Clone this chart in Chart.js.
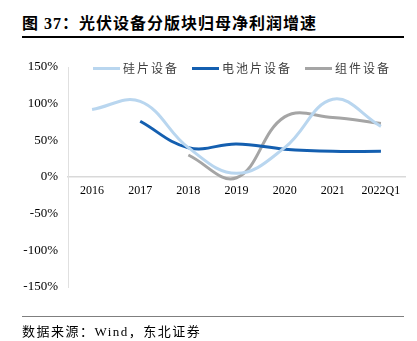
<!DOCTYPE html>
<html><head><meta charset="utf-8">
<script src="https://cdn.jsdelivr.net/npm/chart.js@4.4.1/dist/chart.umd.min.js"></script>
<style>
html,body{margin:0;padding:0;background:#fff;}
body{width:417px;height:341px;position:relative;overflow:hidden;font-family:"Liberation Serif","Noto Sans CJK SC",serif;}
#title{position:absolute;left:22px;top:10px;font-size:16px;font-weight:bold;color:#000;letter-spacing:1px;white-space:nowrap;}
#tline{position:absolute;left:22px;top:36px;width:382px;height:2px;background:#000;}
#bline{position:absolute;left:22px;top:316px;width:382px;height:1px;background:#7f7f7f;}
#src{position:absolute;left:22px;top:321px;font-size:13px;color:#000;white-space:nowrap;letter-spacing:1.5px;}
#cv{position:absolute;left:0;top:0;}
#legend{position:absolute;left:93px;top:59px;display:flex;align-items:center;font-size:12px;color:#404040;white-space:nowrap;}
#legend .it{display:flex;align-items:center;margin-right:13px;letter-spacing:2px;}
#legend .sw{width:27px;height:3px;margin-right:3px;}
</style></head>
<body>
<div id="title">图 37：光伏设备分版块归母净利润增速</div>
<div id="tline"></div>
<canvas id="cv" width="417" height="341"></canvas>
<div id="legend"></div>
<div id="bline"></div>
<div id="src">数据来源：Wind，东北证券</div>
<script>
const categories = ["2016","2017","2018","2019","2020","2021","2022Q1"];
const seriesNames = ["硅片设备","电池片设备","组件设备"];
const waferEquip = [92, 103, 40, 5, 40, 106, 69];
const cellEquip = [null, 76, 40, 45, 38, 35, 35];
const moduleEquip = [null, null, 30, -1, 82, 81, 73];
const yTicks = [-150, -100, -50, 0, 50, 100, 150];
const colors = ["#b9d6ef", "#145fb0", "#a5a5a5"];

const seriesValues = [waferEquip, cellEquip, moduleEquip];
const datasets = seriesValues.map((d, i) => ({
  label: seriesNames[i], data: d, borderColor: colors[i], backgroundColor: colors[i],
  borderWidth: 3, pointRadius: 0, tension: 0.4, fill: false, spanGaps: false
}));

const lg = document.getElementById('legend');
datasets.forEach(ds => {
  const it = document.createElement('div'); it.className = 'it';
  const sw = document.createElement('div'); sw.className = 'sw'; sw.style.background = ds.borderColor;
  const tx = document.createElement('span'); tx.textContent = ds.label;
  it.appendChild(sw); it.appendChild(tx); lg.appendChild(it);
});

new Chart(document.getElementById('cv'), {
  type: 'line',
  data: { labels: categories, datasets },
  options: {
    responsive: false, animation: false,
    layout: { padding: { top: 67, bottom: 54, left: 10, right: 12 } },
    plugins: { legend: { display: false }, tooltip: { enabled: false } },
    scales: {
      x: {
        position: { y: 0 }, offset: true,
        grid: { display: false, drawTicks: false },
        border: { display: true, color: '#d9d9d9', width: 1.5 },
        ticks: { color: '#000', font: { family: 'Liberation Serif', size: 12 }, padding: 7, maxRotation: 0 }
      },
      y: {
        min: -150, max: 150,
        afterFit: s => { s.width = 58; },
        afterBuildTicks: s => { s.ticks = yTicks.map(v => ({ value: v })); },
        grid: { display: false, drawTicks: false },
        border: { display: true, color: '#e0e0e0', width: 1 },
        ticks: { color: '#000', font: { family: 'Liberation Serif', size: 13 }, padding: 10, callback: v => v + '%' }
      }
    }
  }
});
</script>
</body></html>
